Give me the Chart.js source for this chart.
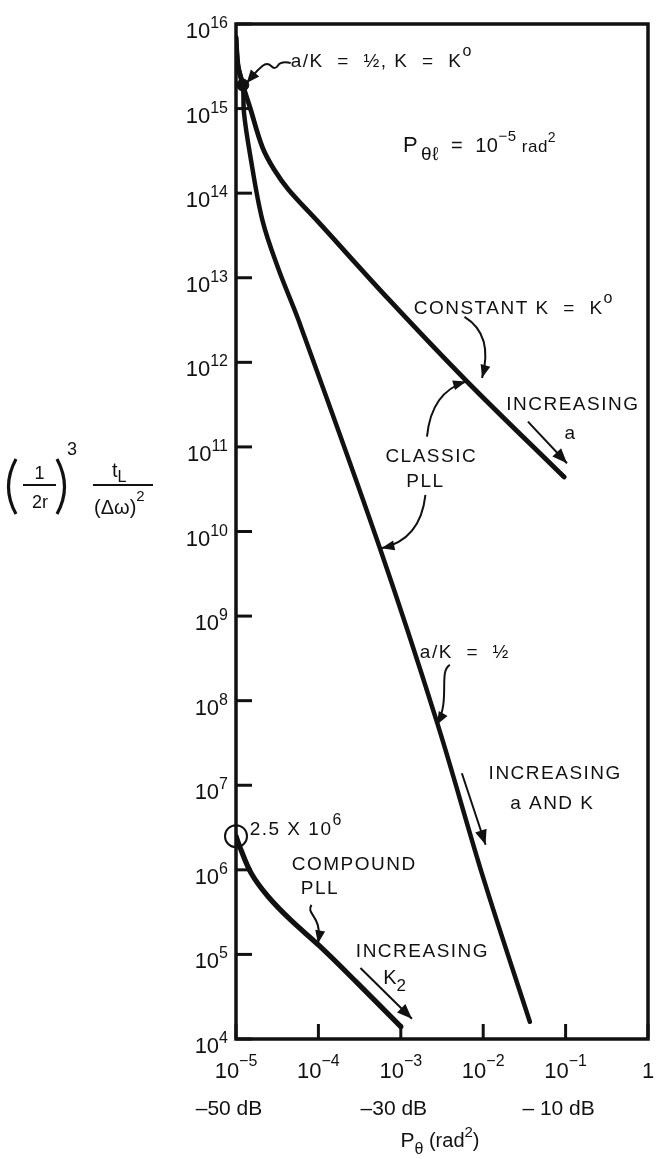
<!DOCTYPE html>
<html>
<head>
<meta charset="utf-8">
<title>Acquisition time vs phase error variance</title>
<script src="https://cdn.jsdelivr.net/npm/chart.js@4.4.1/dist/chart.umd.min.js"></script>
<style>
  html, body { margin: 0; padding: 0; background: #fff; }
  #wrap { width: 661px; height: 1159px; }
</style>
</head>
<body>
<div id="wrap"><canvas id="pllChart" width="661" height="1159"></canvas></div>
<script>
const FONT = "'Liberation Sans', Arial, 'DejaVu Sans', sans-serif";
const INK = '#111';

// --- curve data: P_theta (rad^2) vs normalized acquisition time ---
// classic PLL, constant K = K0
const constantKX = [1.0e-5, 1.06e-5, 1.21e-5, 1.47e-5, 2.09e-5, 2.9e-5, 4.37e-5, 9.9e-5, 7.2e-4, 6.4e-3, 9.6e-2];
const constantKY = [7e15, 3.2e15, 1.9e15, 1.05e15, 3.5e14, 1.9e14, 1.09e14, 4.6e13, 5.5e12, 5.9e11, 4.4e10];
// classic PLL, a/K = 1/2
const halfRatioX = [1.0e-5, 1.06e-5, 1.21e-5, 1.25e-5, 1.47e-5, 2.09e-5, 3.3e-5, 5.7e-5, 5.5e-4, 2.76e-3, 1.02e-2, 3.68e-2];
const halfRatioY = [7e15, 3.2e15, 1.9e15, 8.9e14, 3.0e14, 4.8e13, 1.24e13, 3.2e12, 6.6e9, 5.5e7, 7.6e5, 1.6e4];
// compound PLL
const compoundX = [1.0e-5, 1.11e-5, 1.53e-5, 2.42e-5, 4.57e-5, 1.04e-4, 2.9e-4, 1.0e-3];
const compoundY = [2.5e6, 1.88e6, 9.1e5, 4.9e5, 2.57e5, 1.25e5, 4.7e4, 1.4e4];

// marked points
const commonPointX = [1.21e-5];
const commonPointY = [1.9e15];
const compoundStartX = [1.0e-5];
const compoundStartY = [2.5e6];

// --- axes ---
const xTickValues = [1e-5, 1e-4, 1e-3, 1e-2, 1e-1, 1];
const xTickExps = ['\u22125', '\u22124', '\u22123', '\u22122', '\u22121', ''];
const yTickPowers = [4, 5, 6, 7, 8, 9, 10, 11, 12, 13, 14, 15, 16];
const dbTickValues = [1e-5, 1e-3, 1e-1];
const dbTickLabels = ['\u201350 dB', '\u201330 dB', '\u2013 10 dB'];

const toPoints = (xs, ys) => xs.map((x, i) => ({ x: x, y: ys[i] }));

// draws a row of text runs (size, baseline shift) as one label
function drawRich(ctx, runs, x, y, align, spacing) {
    ctx.letterSpacing = (spacing || 0) + 'px';
    let total = 0;
    runs.forEach(r => {
        ctx.font = r.s + 'px ' + FONT;
        r.w = ctx.measureText(r.t).width + (r.gap || 0);
        total += r.w;
    });
    let cx = align === 'center' ? x - total / 2 : align === 'right' ? x - total : x;
    ctx.textAlign = 'left';
    ctx.textBaseline = 'alphabetic';
    runs.forEach(r => {
        ctx.font = r.s + 'px ' + FONT;
        ctx.fillText(r.t, cx + (r.gap || 0), y + (r.dy || 0));
        cx += r.w;
    });
    ctx.letterSpacing = '0px';
}

function arrowHead(ctx, fx, fy, tx, ty, len, half) {
    const ang = Math.atan2(ty - fy, tx - fx);
    const bx = tx - len * Math.cos(ang), by = ty - len * Math.sin(ang);
    ctx.beginPath();
    ctx.moveTo(tx, ty);
    ctx.lineTo(bx + half * Math.sin(ang), by - half * Math.cos(ang));
    ctx.lineTo(bx - half * Math.sin(ang), by + half * Math.cos(ang));
    ctx.closePath();
    ctx.fill();
}

// pts: [start, ...controls, end] in pixels; 2 = straight, 3 = quadratic, 4 = cubic
function arrow(ctx, pts, len, half) {
    const s = pts[0], e = pts[pts.length - 1], c = pts[pts.length - 2];
    ctx.beginPath();
    ctx.moveTo(s[0], s[1]);
    if (pts.length === 2) ctx.lineTo(e[0], e[1]);
    else if (pts.length === 3) ctx.quadraticCurveTo(pts[1][0], pts[1][1], e[0], e[1]);
    else ctx.bezierCurveTo(pts[1][0], pts[1][1], pts[2][0], pts[2][1], e[0], e[1]);
    ctx.stroke();
    arrowHead(ctx, c[0], c[1], e[0], e[1], len || 13, half || 5);
}

// smooth wavy tail through points, head at the last one
function wigglyArrow(ctx, pts) {
    ctx.beginPath();
    ctx.moveTo(pts[0][0], pts[0][1]);
    for (let i = 1; i < pts.length - 1; i++) {
        const mx = (pts[i][0] + pts[i + 1][0]) / 2, my = (pts[i][1] + pts[i + 1][1]) / 2;
        ctx.quadraticCurveTo(pts[i][0], pts[i][1], mx, my);
    }
    const e = pts[pts.length - 1];
    ctx.lineTo(e[0], e[1]);
    ctx.stroke();
    const p = pts[pts.length - 2];
    arrowHead(ctx, p[0], p[1], e[0], e[1], 13, 5.5);
}

const paperPlugin = {
    id: 'paper',
    afterDatasetsDraw(chart) {
        const { ctx, chartArea: a, scales: { x, y } } = chart;
        // position in decades -> pixels
        const at = (lx, ly) => [x.getPixelForValue(Math.pow(10, lx)), y.getPixelForValue(Math.pow(10, ly))];
        const line = (x1, y1, x2, y2) => { ctx.beginPath(); ctx.moveTo(x1, y1); ctx.lineTo(x2, y2); ctx.stroke(); };

        ctx.save();
        ctx.strokeStyle = INK;
        ctx.fillStyle = INK;
        ctx.lineCap = 'butt';

        // frame with inward ticks on the left and bottom
        ctx.lineWidth = 3.5;
        ctx.strokeRect(a.left, a.top, a.right - a.left, a.bottom - a.top);
        ctx.lineWidth = 3;
        yTickPowers.forEach(p => {
            const py = y.getPixelForValue(Math.pow(10, p));
            line(a.left, py, a.left + 16, py);
        });
        xTickValues.forEach(v => {
            const px = x.getPixelForValue(v);
            line(px, a.bottom, px, a.bottom - 15);
        });

        // tick labels
        yTickPowers.forEach(p => {
            const py = y.getPixelForValue(Math.pow(10, p));
            drawRich(ctx, [{ t: '10', s: 22 }, { t: String(p), s: 16, dy: -10 }], a.left - 8, py + 14, 'right');
        });
        xTickValues.forEach((v, i) => {
            const px = x.getPixelForValue(v);
            const runs = xTickExps[i] ? [{ t: '10', s: 22 }, { t: xTickExps[i], s: 16, dy: -12 }] : [{ t: '1', s: 22 }];
            drawRich(ctx, runs, px, a.bottom + 39, 'center');
        });
        dbTickValues.forEach((v, i) => {
            const px = x.getPixelForValue(v);
            drawRich(ctx, [{ t: dbTickLabels[i], s: 21 }], px - 7, a.bottom + 76, 'center');
        });

        // x axis title
        drawRich(ctx, [
            { t: 'P', s: 21 }, { t: '\u03B8', s: 16, dy: 7 }, { t: ' (rad', s: 20 },
            { t: '2', s: 15, dy: -10 }, { t: ')', s: 20 }
        ], (a.left + a.right) / 2 - 2, a.bottom + 108, 'center');

        // y axis title: (1/2r)^3 t_L/(dw)^2
        const yc = at(0, 10.55)[1];
        ctx.lineWidth = 3.2;
        ctx.beginPath(); ctx.moveTo(16, yc - 26); ctx.quadraticCurveTo(1, yc + 2, 16, yc + 29); ctx.stroke();
        ctx.beginPath(); ctx.moveTo(57, yc - 26); ctx.quadraticCurveTo(72, yc + 2, 57, yc + 29); ctx.stroke();
        ctx.lineWidth = 2.2;
        line(23, yc, 56, yc);
        line(93, yc, 153, yc);
        drawRich(ctx, [{ t: '1', s: 18 }], 39.5, yc - 6, 'center');
        drawRich(ctx, [{ t: '2r', s: 18 }], 40, yc + 23, 'center');
        drawRich(ctx, [{ t: '3', s: 18 }], 67, yc - 30, 'left');
        drawRich(ctx, [{ t: 't', s: 20 }, { t: 'L', s: 16, dy: 5 }], 112, yc - 8, 'left');
        drawRich(ctx, [{ t: '(\u0394\u03C9)', s: 20 }, { t: '2', s: 15, dy: -13 }], 94, yc + 29, 'left');

        // ---- annotations ----
        const SP = 1.5;
        let p;
        p = at(-4.336, 15.574);
        drawRich(ctx, [{ t: 'a/K  =  \u00BD, K  =  K', s: 19 }, { t: 'o', s: 16, dy: -11 }], p[0], p[1] + 7, 'left', SP);

        p = at(-2.974, 14.487);
        drawRich(ctx, [
            { t: 'P', s: 22 }, { t: '\u03B8\u2113', s: 19, dy: 8, gap: 3 }, { t: '  =  10', s: 20 },
            { t: '\u22125', s: 15, dy: -11 }, { t: ' rad', s: 17 }, { t: '2', s: 14, dy: -10 }
        ], p[0], p[1], 'left', 0.5);

        p = at(-2.844, 12.655);
        drawRich(ctx, [{ t: 'CONSTANT K  =  K', s: 19 }, { t: 'o', s: 16, dy: -11 }], p[0], p[1] + 7, 'left', SP);

        p = at(-0.912, 11.52);
        drawRich(ctx, [{ t: 'INCREASING', s: 19 }], p[0], p[1] + 7, 'center', SP);
        p = at(-0.948, 11.177);
        drawRich(ctx, [{ t: 'a', s: 19 }], p[0], p[1] + 7, 'center');

        p = at(-2.63, 10.905);
        drawRich(ctx, [{ t: 'CLASSIC', s: 19 }], p[0], p[1] + 7, 'center', SP);
        p = at(-2.70, 10.61);
        drawRich(ctx, [{ t: 'PLL', s: 19 }], p[0], p[1] + 7, 'center', SP);

        p = at(-2.222, 8.59);
        drawRich(ctx, [{ t: 'a/K  =  \u00BD', s: 19 }], p[0], p[1] + 7, 'center', SP);

        p = at(-1.126, 7.162);
        drawRich(ctx, [{ t: 'INCREASING', s: 19 }], p[0], p[1] + 7, 'center', SP);
        p = at(-1.161, 6.807);
        drawRich(ctx, [{ t: 'a AND K', s: 19 }], p[0], p[1] + 7, 'center', SP);

        p = at(-4.834, 6.496);
        drawRich(ctx, [{ t: '2.5 X 10', s: 19 }, { t: '6', s: 16, dy: -10 }], p[0], p[1] + 7, 'left', SP);

        p = at(-3.566, 6.083);
        drawRich(ctx, [{ t: 'COMPOUND', s: 19 }], p[0], p[1] + 7, 'center', SP);
        p = at(-3.981, 5.799);
        drawRich(ctx, [{ t: 'PLL', s: 19 }], p[0], p[1] + 7, 'center', SP);

        p = at(-2.737, 5.054);
        drawRich(ctx, [{ t: 'INCREASING', s: 19 }], p[0], p[1] + 7, 'center', SP);
        p = at(-3.14, 4.735);
        drawRich(ctx, [{ t: 'K', s: 20 }, { t: '2', s: 17, dy: 7 }], p[0] - 6, p[1] + 7, 'left');

        // arrows
        ctx.lineWidth = 2;
        wigglyArrow(ctx, [
            at(-4.336, 15.539), at(-4.455, 15.563), at(-4.526, 15.456),
            at(-4.621, 15.551), at(-4.739, 15.456), at(-4.87, 15.303)
        ]);
        arrow(ctx, [at(-2.227, 12.537), at(-1.872, 12.324), at(-2.014, 11.816)]);
        arrow(ctx, [at(-2.682, 11.122), at(-2.63, 11.65), at(-2.208, 11.772)]);
        arrow(ctx, [at(-2.701, 10.433), at(-2.761, 9.901), at(-3.235, 9.803)]);
        arrow(ctx, [at(-2.405, 8.423), at(-2.547, 8.34), at(-2.393, 8.009), at(-2.563, 7.714)]);
        arrow(ctx, [at(-4.084, 5.586), at(-4.159, 5.468), at(-3.946, 5.468), at(-4.005, 5.13)]);

        // "increasing" direction arrows, offset alongside their curves
        arrow(ctx, [at(-1.457, 11.299), at(-0.983, 10.807)], 15, 6);
        arrow(ctx, [at(-2.259, 7.142), at(-1.971, 6.296)], 15, 6);
        arrow(ctx, [at(-3.49, 4.84), at(-2.865, 4.24)], 15, 6);

        ctx.restore();
    }
};

const curveStyle = {
    showLine: true,
    borderColor: INK,
    pointRadius: 0,
    borderCapStyle: 'round',
    borderJoinStyle: 'round',
    tension: 0.35
};

new Chart(document.getElementById('pllChart'), {
    type: 'scatter',
    data: {
        datasets: [
            Object.assign({ label: 'Constant K = K0', data: toPoints(constantKX, constantKY), borderWidth: 4.8 }, curveStyle),
            Object.assign({ label: 'a/K = 1/2', data: toPoints(halfRatioX, halfRatioY), borderWidth: 4.5 }, curveStyle),
            Object.assign({ label: 'Compound PLL', data: toPoints(compoundX, compoundY), borderWidth: 5.2 }, curveStyle),
            {
                label: 'a/K = 1/2, K = K0',
                data: toPoints(commonPointX, commonPointY),
                pointRadius: 6,
                pointBackgroundColor: INK,
                pointBorderColor: INK,
                clip: false
            },
            {
                label: '2.5 x 10^6',
                data: toPoints(compoundStartX, compoundStartY),
                pointRadius: 11,
                pointBackgroundColor: 'rgba(0,0,0,0)',
                pointBorderColor: INK,
                pointBorderWidth: 2,
                clip: false
            }
        ]
    },
    options: {
        responsive: false,
        animation: false,
        layout: { padding: { left: 236, top: 24, right: 3, bottom: 120 } },
        plugins: { legend: { display: false }, tooltip: { enabled: false } },
        scales: {
            x: { type: 'logarithmic', min: 1e-5, max: 1, display: false },
            y: { type: 'logarithmic', min: 1e4, max: 1e16, display: false }
        }
    },
    plugins: [paperPlugin]
});
</script>
</body>
</html>
